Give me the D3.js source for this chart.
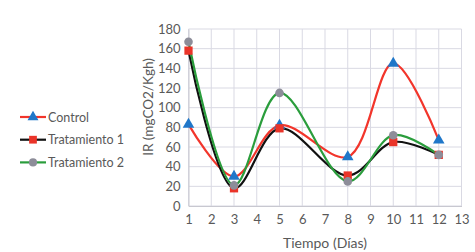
<!DOCTYPE html>
<html lang="es">
<head>
<meta charset="UTF-8">
<script src="https://d3js.org/d3.v7.min.js"></script>
<style>
  body { margin: 0; background: #fff; }
  svg text { font-family: Lato, 'Open Sans', sans-serif; fill: #595959; }
  .grid line { stroke: #d9d9e3; stroke-width: 1; }
</style>
</head>
<body>
<svg width="475" height="252"></svg>
<script>
const days = [1, 3, 5, 8, 10, 12];
const control = [83, 30, 82, 50, 145, 67];
const trat1 = [158, 18, 79, 31, 65, 52];
const trat2 = [167, 21, 115, 25, 72, 52];
const xTicks = d3.range(1, 14);
const yTicks = d3.range(0, 181, 20);

const series = [
  { name: "Control", values: control, line: "#f2352b", marker: "#1f77c9", shape: d3.symbolTriangle },
  { name: "Tratamiento 1", values: trat1, line: "#111111", marker: "#ea3429", shape: d3.symbolSquare },
  { name: "Tratamiento 2", values: trat2, line: "#2a9d3c", marker: "#8d8d99", shape: d3.symbolCircle }
];

const svg = d3.select("svg");
const x = d3.scaleLinear().domain([1, 13]).range([188.5, 461.5]);
const y = d3.scaleLinear().domain([0, 180]).range([206, 29]);

// gridlines
const grid = svg.append("g").attr("class", "grid");
grid.selectAll(".v").data(xTicks).enter().append("line")
  .attr("x1", d => x(d)).attr("x2", d => x(d))
  .attr("y1", y(0)).attr("y2", y(180));
grid.selectAll(".h").data(yTicks).enter().append("line")
  .attr("x1", x(1)).attr("x2", x(13))
  .attr("y1", d => y(d)).attr("y2", d => y(d));

// axes
const xAxis = svg.append("g")
  .attr("transform", `translate(0,${y(0)})`)
  .call(d3.axisBottom(x).tickValues(xTicks).tickSize(0).tickPadding(9));
xAxis.select(".domain").attr("stroke", "#c8c8d0");
xAxis.selectAll("text").attr("font-size", 13);

const yAxis = svg.append("g")
  .attr("transform", `translate(${x(1)},0)`)
  .call(d3.axisLeft(y).tickValues(yTicks).tickSize(0).tickPadding(8));
yAxis.select(".domain").attr("stroke", "#c8c8d0");
yAxis.selectAll("text").attr("font-size", 13);

svg.append("text")
  .attr("x", 325).attr("y", 247.5)
  .attr("text-anchor", "middle").attr("font-size", 14)
  .text("Tiempo (Días)");

svg.append("text")
  .attr("transform", `translate(153,107) rotate(-90)`)
  .attr("text-anchor", "middle").attr("font-size", 13.5)
  .text("IR (mgCO2/Kgh)");

// lines
const line = d3.line()
  .x((d, i) => x(days[i]))
  .y(d => y(d))
  .curve(d3.curveCatmullRom.alpha(0.5));

series.forEach(s => {
  svg.append("path")
    .datum(s.values)
    .attr("fill", "none")
    .attr("stroke", s.line)
    .attr("stroke-width", 2.2)
    .attr("d", line);
});

series.forEach(s => {
  svg.append("g").selectAll("path")
    .data(s.values).enter().append("path")
    .attr("transform", (d, i) => `translate(${x(days[i])},${y(d)})`)
    .attr("d", d3.symbol().type(s.shape).size(s.shape === d3.symbolSquare ? 68 : 58))
    .attr("fill", s.marker);
});

// legend
const legend = svg.append("g");
series.forEach((s, i) => {
  const ly = 117 + i * 22.7;
  legend.append("line")
    .attr("x1", 20).attr("x2", 46).attr("y1", ly).attr("y2", ly)
    .attr("stroke", s.line).attr("stroke-width", 2.2);
  legend.append("path")
    .attr("transform", `translate(33,${ly})`)
    .attr("d", d3.symbol().type(s.shape).size(s.shape === d3.symbolSquare ? 60 : 52))
    .attr("fill", s.marker);
  legend.append("text")
    .attr("x", 48).attr("y", ly + 4.5)
    .attr("font-size", 12.5)
    .text(s.name);
});
</script>
</body>
</html>
